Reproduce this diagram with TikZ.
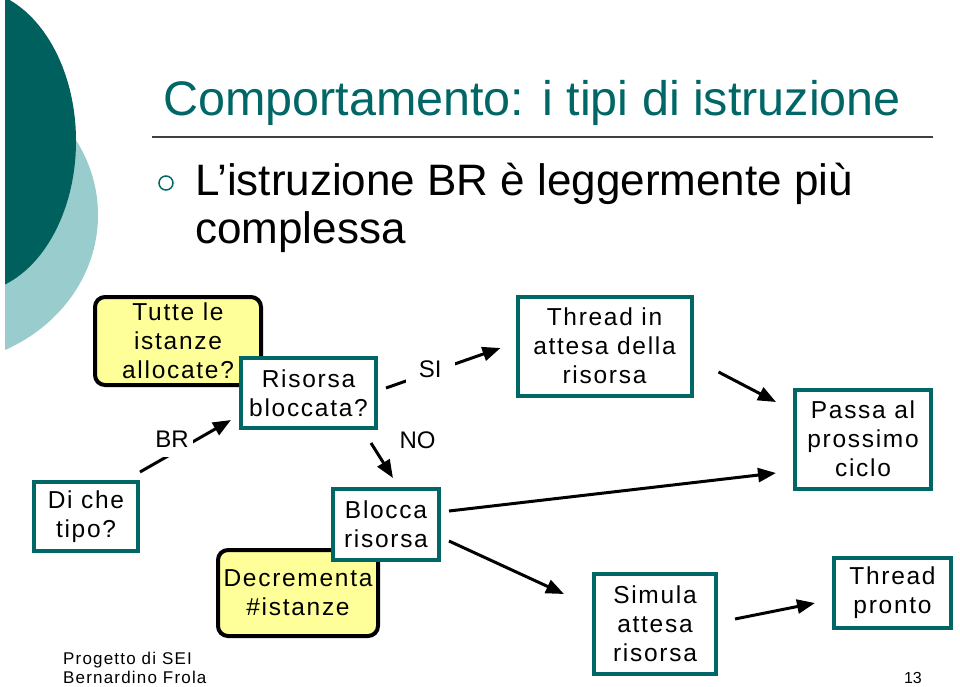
\documentclass[tikz,border=0pt]{standalone}
\usepackage{fontspec}
\setmainfont{Liberation Sans}
\newfontfamily\boxfont[LetterSpace=7]{Liberation Sans}
\usepackage{xcolor}
\usetikzlibrary{arrows.meta}

\definecolor{tealline}{RGB}{0,102,102}
\definecolor{darkwave}{RGB}{0,96,94}
\definecolor{lightwave}{RGB}{153,204,204}
\definecolor{pale}{RGB}{255,255,153}

\tikzset{
  box/.style={draw=tealline, line width=4pt, fill=white, align=center, inner sep=0pt,
    font=\boxfont\fontsize{24.5}{29}\selectfont},
  ask/.style={box, draw=black, rounded corners=10pt, fill=pale},
  arr/.style={line width=3pt, -{Triangle[length=18pt,width=14pt]}},
  lbl/.style={fill=white, font=\fontsize{24}{29}\selectfont}
}

\begin{document}
\begin{tikzpicture}[x=1pt,y=-1pt]
		\useasboundingbox (0,0) rectangle (960,686);

		% Background waves
		\begin{scope}
			\clip (5,0) rectangle (960,686);
			\fill[lightwave] (-67,215) ellipse [x radius=165, y radius=150];
			\fill[darkwave] (-30,141) ellipse [x radius=106, y radius=152];
		\end{scope}

		% Title and bullet
		\node[anchor=base west, inner sep=0pt, text=tealline, font=\fontsize{48.5}{55}\selectfont] (title) at (163,115) {Comportamento: i tipi di istruzione};
		\draw[line width=2pt, black!75] (152,137) -- (933,137);
		\draw[tealline, line width=1.5pt] (166,183) circle (7);
		\node[anchor=base west, inner sep=0pt, font=\fontsize{44}{48}\selectfont] (riga1) at (195,195) {L’istruzione BR è leggermente più};
		\node[anchor=base west, inner sep=0pt, font=\fontsize{44}{48}\selectfont] (riga2) at (195,243) {complessa};

		% Boxes
		\node[ask, minimum width=166pt, minimum height=88pt] (tutte) at (178,341) {Tutte le\\istanze\\allocate?};
		\node[box, minimum width=135pt, minimum height=70pt] (risorsa) at (308.5,393) {Risorsa\\bloccata?};
		\node[box, minimum width=104pt, minimum height=69pt] (tipo) at (86,516.5) {Di che\\tipo?};
		\node[ask, minimum width=160pt, minimum height=86pt] (decr) at (298,593) {Decrementa\\\#istanze};
		\node[box, minimum width=106pt, minimum height=71pt] (blocca) at (386,524.5) {Blocca\\risorsa};
		\node[box, minimum width=174pt, minimum height=99pt] (attesa) at (604.5,346) {Thread in\\attesa della\\risorsa};
		\node[box, minimum width=136pt, minimum height=99pt] (passa) at (863,439) {Passa al\\prossimo\\ciclo};
		\node[box, minimum width=122pt, minimum height=100pt] (simula) at (655,624) {Simula\\attesa\\risorsa};
		\node[box, minimum width=117pt, minimum height=70pt] (pronto) at (892.5,593) {Thread\\pronto};

		% Arrows
		\draw[arr] ([shift={(0pt,8pt)}]tipo.north east) -- node[lbl, pos=0.43, inner xsep=4pt, inner ysep=9pt, xshift=-7pt, yshift=10pt] (br) {BR} ([shift={(-8pt,10pt)}]risorsa.south west);
		\draw[arr] ([shift={(8pt,5pt)}]risorsa.east) -- node[lbl, pos=0.386, inner xsep=13pt, inner ysep=5pt, yshift=3pt] (si) {SI} ([shift={(-15pt,-2pt)}]attesa.west);
		\draw[arr] ([shift={(-7pt,-13pt)}]risorsa.south east) -- node[pos=0, anchor=west, inner sep=0pt, xshift=27pt, yshift=3pt, font=\fontsize{24}{29}\selectfont] (no) {NO} ([shift={(7pt,9pt)}]blocca.north);
		\draw[arr] ([shift={(25pt,-26pt)}]attesa.east) -- ([shift={(-17pt,37pt)}]passa.west);
		\draw[arr] ([shift={(8pt,13.5pt)}]blocca.east) -- ([shift={(-17pt,-34pt)}]passa.west);
		\draw[arr] ([shift={(8pt,-16.5pt)}]blocca.east) -- ([shift={(-28pt,30pt)}]simula.west);
		\draw[arr] ([shift={(17pt,5pt)}]simula.east) -- ([shift={(-17pt,-10pt)}]pronto.west);

		% Footer
		\node[anchor=base west, inner sep=0pt, font=\boxfont\fontsize{17}{21}\selectfont] (progetto) at (63,664) {Progetto di SEI};
		\node[anchor=base west, inner sep=0pt, font=\boxfont\fontsize{17}{21}\selectfont] (autore) at (63,683) {Bernardino Frola};
		\node[anchor=base east, inner sep=0pt, font=\fontsize{16}{20}\selectfont] (pagina) at (922,683) {13};
	\end{tikzpicture}
\end{document}
